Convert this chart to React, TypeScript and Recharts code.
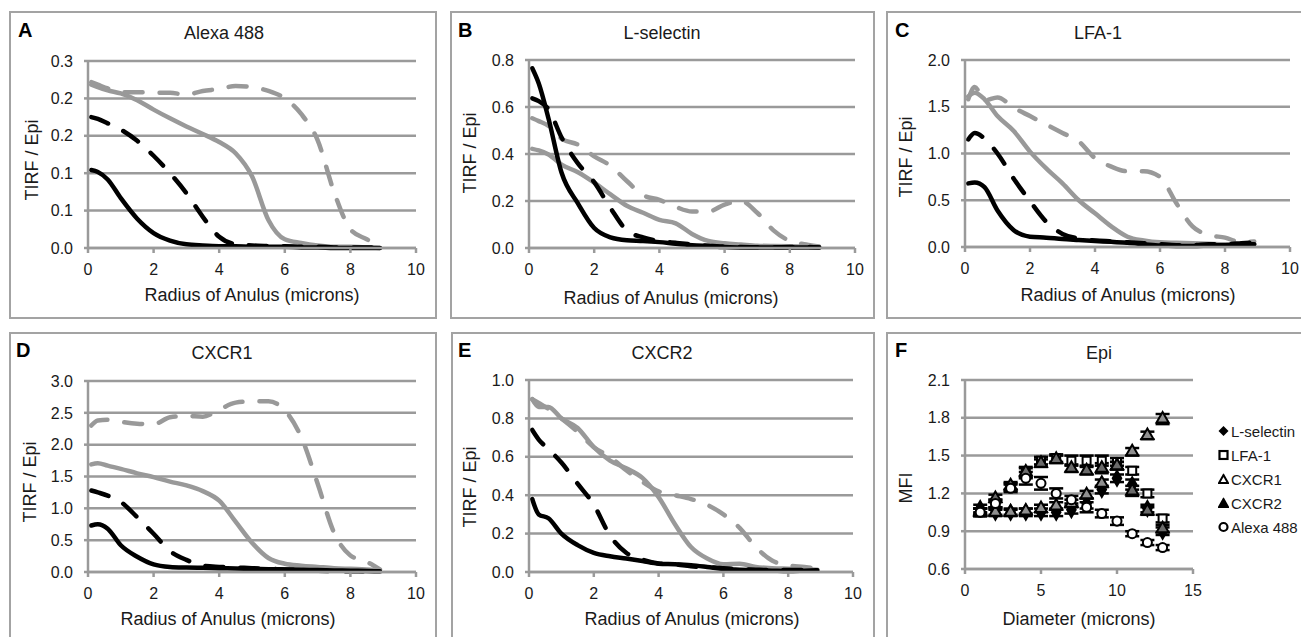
import { CartesianGrid, ErrorBar, Line, LineChart, Scatter, ScatterChart, XAxis, YAxis, ZAxis } from "recharts"

const FONT = '"Liberation Sans", Arial, Helvetica, sans-serif'
const GRID = "#9a9a9a"
const GRAY = "#999999"
const INK = "#1a1a1a"

// radius of anulus (microns), shared by panels A-E
const radius = [0.1, 0.3, 0.6, 1, 1.5, 2, 2.5, 3, 3.5, 4, 4.5, 5, 5.5, 6, 6.5, 7, 7.5, 8, 8.5, 8.9]
const radiusTicks = [0, 2, 4, 6, 8, 10]

// A - Alexa 488
const alexaTicks = [0, 0.06, 0.12, 0.18, 0.24, 0.3]
const alexaBlack = [0.125, 0.122, 0.11, 0.08, 0.047, 0.024, 0.012, 0.006, 0.004, 0.003, 0.003, 0.002, 0.002, 0.002, 0.001, 0.001, 0, 0, 0, 0]
const alexaBlackDash = [0.21, 0.207, 0.2, 0.19, 0.172, 0.148, 0.12, 0.088, 0.05, 0.018, 0.006, 0.004, 0.003, 0.003, 0.002, 0.002, 0.001, 0.001, 0.001, 0.001]
const alexaGray = [0.262, 0.258, 0.253, 0.248, 0.237, 0.222, 0.208, 0.195, 0.183, 0.17, 0.152, 0.115, 0.045, 0.014, 0.008, 0.004, 0.002, 0.002, 0.001, 0]
const alexaGrayDash = [0.266, 0.262, 0.256, 0.25, 0.25, 0.249, 0.249, 0.246, 0.252, 0.255, 0.26, 0.258, 0.252, 0.24, 0.215, 0.173, 0.09, 0.03, 0.014, 0.003]

// B - L-selectin
const lselTicks = [0, 0.2, 0.4, 0.6, 0.8]
const lselBlack = [0.765, 0.7, 0.55, 0.32, 0.19, 0.085, 0.045, 0.033, 0.03, 0.025, 0.018, 0.012, 0.008, 0.004, 0.002, 0.002, 0.002, 0.002, 0.002, 0.002]
const lselBlackDash = [0.637, 0.625, 0.59, 0.47, 0.36, 0.28, 0.17, 0.075, 0.045, 0.03, 0.022, 0.015, 0.01, 0.006, 0.004, 0.003, 0.003, 0.004, 0.004, 0.002]
const lselGray = [0.422, 0.415, 0.398, 0.355, 0.322, 0.278, 0.228, 0.18, 0.15, 0.12, 0.105, 0.06, 0.03, 0.02, 0.015, 0.01, 0.008, 0.007, 0.006, 0.005]
const lselGrayDash = [0.552, 0.54, 0.52, 0.465, 0.44, 0.39, 0.35, 0.285, 0.225, 0.205, 0.175, 0.155, 0.155, 0.185, 0.2, 0.15, 0.075, 0.03, 0.015, 0.006]

// C - LFA-1
const lfaTicks = [0, 0.5, 1, 1.5, 2]
const lfaBlack = [0.68, 0.69, 0.64, 0.39, 0.18, 0.11, 0.1, 0.085, 0.075, 0.065, 0.055, 0.045, 0.03, 0.015, 0.01, 0.01, 0.015, 0.02, 0.025, 0.03]
const lfaBlackDash = [1.15, 1.22, 1.16, 1.0, 0.73, 0.49, 0.27, 0.14, 0.09, 0.07, 0.06, 0.05, 0.04, 0.03, 0.02, 0.02, 0.03, 0.03, 0.04, 0.05]
const lfaGray = [1.61, 1.65, 1.58, 1.4, 1.24, 1.02, 0.84, 0.68, 0.5, 0.36, 0.22, 0.11, 0.07, 0.05, 0.045, 0.04, 0.035, 0.03, 0.03, 0.03]
const lfaGrayDash = [1.58, 1.71, 1.57, 1.6, 1.49, 1.4, 1.31, 1.22, 1.13, 0.95, 0.86, 0.81, 0.81, 0.75, 0.47, 0.22, 0.13, 0.1, 0.05, 0.06]

// D - CXCR1
const cx1Ticks = [0, 0.5, 1, 1.5, 2, 2.5, 3]
const cx1Black = [0.73, 0.75, 0.68, 0.42, 0.24, 0.12, 0.08, 0.07, 0.065, 0.06, 0.055, 0.05, 0.045, 0.04, 0.035, 0.03, 0.025, 0.02, 0.015, 0.01]
const cx1BlackDash = [1.28, 1.25, 1.2, 1.1, 0.86, 0.6, 0.33, 0.19, 0.1, 0.08, 0.07, 0.06, 0.05, 0.04, 0.03, 0.02, 0.015, 0.01, 0.01, 0.01]
const cx1Gray = [1.69, 1.71, 1.67, 1.62, 1.55, 1.49, 1.42, 1.36, 1.27, 1.12, 0.79, 0.46, 0.22, 0.13, 0.1, 0.08, 0.06, 0.05, 0.04, 0.03]
const cx1GrayDash = [2.3, 2.38, 2.39, 2.36, 2.33, 2.32, 2.43, 2.45, 2.44, 2.55, 2.66, 2.68, 2.68, 2.54, 2.12, 1.39, 0.62, 0.26, 0.16, 0.04]

// E - CXCR2
const cx2Ticks = [0, 0.2, 0.4, 0.6, 0.8, 1]
const cx2Black = [0.38, 0.3, 0.28, 0.2, 0.14, 0.1, 0.082, 0.07, 0.057, 0.043, 0.04, 0.035, 0.026, 0.016, 0.012, 0.009, 0.007, 0.005, 0.007, 0.009]
const cx2BlackDash = [0.74, 0.69, 0.64, 0.57, 0.46, 0.35, 0.19, 0.1, 0.065, 0.045, 0.04, 0.03, 0.025, 0.02, 0.015, 0.012, 0.01, 0.01, 0.01, 0.01]
const cx2Gray = [0.9, 0.86, 0.86, 0.8, 0.75, 0.65, 0.58, 0.54, 0.49, 0.39, 0.25, 0.13, 0.07, 0.04, 0.043, 0.026, 0.02, 0.017, 0.014, 0.012]
const cx2GrayDash = [0.9, 0.88, 0.85, 0.8, 0.73, 0.65, 0.6, 0.53, 0.47, 0.42, 0.4, 0.38, 0.35, 0.3, 0.23, 0.13, 0.06, 0.035, 0.026, 0.017]

// F - Epi MFI vs diameter
const diameter = [1, 2, 3, 4, 5, 6, 7, 8, 9, 10, 11, 12, 13]
const diameterTicks = [0, 5, 10, 15]
const mfiTicks = [0.6, 0.9, 1.2, 1.5, 1.8, 2.1]
const mfiLsel = [1.08, 1.05, 1.05, 1.05, 1.05, 1.05, 1.07, 1.12, 1.23, 1.32, 1.27, 1.08, 0.9]
const mfiLfa = [1.05, 1.12, 1.25, 1.36, 1.46, 1.48, 1.46, 1.46, 1.46, 1.45, 1.38, 1.2, 1.0]
const mfiCx1 = [1.06, 1.05, 1.05, 1.06, 1.08, 1.1, 1.12, 1.19, 1.28, 1.42, 1.53, 1.66, 1.79]
const mfiCx2 = [1.05, 1.16, 1.26, 1.37, 1.44, 1.47, 1.4, 1.38, 1.4, 1.42, 1.22, 1.06, 0.92]
const mfiAlexa = [1.05, 1.12, 1.24, 1.32, 1.28, 1.2, 1.15, 1.09, 1.04, 0.98, 0.88, 0.81, 0.77]
const errLsel = [0.03, 0.03, 0.03, 0.03, 0.03, 0.03, 0.03, 0.04, 0.03, 0.03, 0.04, 0.03, 0.03]
const errLfa = [0.03, 0.03, 0.03, 0.04, 0.03, 0.03, 0.04, 0.04, 0.04, 0.03, 0.03, 0.03, 0.03]
const errCx1 = [0.02, 0.02, 0.02, 0.02, 0.03, 0.03, 0.03, 0.03, 0.03, 0.03, 0.03, 0.03, 0.04]
const errCx2 = [0.03, 0.03, 0.03, 0.04, 0.03, 0.03, 0.03, 0.03, 0.04, 0.03, 0.04, 0.03, 0.03]
const errAlexa = [0.03, 0.03, 0.03, 0.05, 0.05, 0.04, 0.03, 0.04, 0.03, 0.03, 0.02, 0.02, 0.02]

const YW = 60
const MT = 10
const MR = 12
const XH = 34

type Plot = { x0: number; x1: number; y0: number; y1: number }
type Panel = {
  letter: string
  title: string
  box: [number, number, number, number]
  plot: Plot
  letterAt: [number, number]
  titleAt: [number, number]
  yLabel: string
  yLabelAt: [number, number]
  xLabel: string
  xLabelAt: [number, number]
}

const linePanels: (Panel & { max: number; ticks: number[]; series: number[][] })[] = [
  { letter: "A", title: "Alexa 488", box: [9, 11, 437, 319], plot: { x0: 88, x1: 416, y0: 61, y1: 248 }, letterAt: [18, 30], titleAt: [224, 33], yLabel: "TIRF / Epi", yLabelAt: [32, 160], xLabel: "Radius of Anulus (microns)", xLabelAt: [252, 295], max: 0.3, ticks: alexaTicks, series: [alexaBlack, alexaBlackDash, alexaGray, alexaGrayDash] },
  { letter: "B", title: "L-selectin", box: [450, 11, 875, 319], plot: { x0: 529, x1: 855, y0: 60, y1: 248 }, letterAt: [458, 30], titleAt: [662, 33], yLabel: "TIRF / Epi", yLabelAt: [470, 153], xLabel: "Radius of Anulus (microns)", xLabelAt: [671, 298], max: 0.8, ticks: lselTicks, series: [lselBlack, lselBlackDash, lselGray, lselGrayDash] },
  { letter: "C", title: "LFA-1", box: [886, 11, 1310, 319], plot: { x0: 965, x1: 1290, y0: 60, y1: 247 }, letterAt: [895, 30], titleAt: [1098, 33], yLabel: "TIRF / Epi", yLabelAt: [906, 157], xLabel: "Radius of Anulus (microns)", xLabelAt: [1128, 295], max: 2, ticks: lfaTicks, series: [lfaBlack, lfaBlackDash, lfaGray, lfaGrayDash] },
  { letter: "D", title: "CXCR1", box: [9, 332, 437, 645], plot: { x0: 88, x1: 416, y0: 381, y1: 572 }, letterAt: [16, 350], titleAt: [222, 353], yLabel: "TIRF / Epi", yLabelAt: [30, 482], xLabel: "Radius of Anulus (microns)", xLabelAt: [228, 619], max: 3, ticks: cx1Ticks, series: [cx1Black, cx1BlackDash, cx1Gray, cx1GrayDash] },
  { letter: "E", title: "CXCR2", box: [451, 332, 875, 645], plot: { x0: 529, x1: 853, y0: 380, y1: 572 }, letterAt: [458, 350], titleAt: [662, 353], yLabel: "TIRF / Epi", yLabelAt: [470, 487], xLabel: "Radius of Anulus (microns)", xLabelAt: [692, 619], max: 1, ticks: cx2Ticks, series: [cx2Black, cx2BlackDash, cx2Gray, cx2GrayDash] },
]

const epiPanel: Panel = { letter: "F", title: "Epi", box: [886, 332, 1310, 645], plot: { x0: 965, x1: 1193, y0: 380, y1: 569 }, letterAt: [895, 350], titleAt: [1099, 353], yLabel: "MFI", yLabelAt: [906, 488], xLabel: "Diameter (microns)", xLabelAt: [1079, 619] }

const epiSeries = [
  { name: "L-selectin", values: mfiLsel, errs: errLsel, shape: "diamond", fill: "#000", stroke: "#000" },
  { name: "LFA-1", values: mfiLfa, errs: errLfa, shape: "square", fill: "#fff", stroke: "#000" },
  { name: "CXCR1", values: mfiCx1, errs: errCx1, shape: "triangle", fill: "#8f8f8f", stroke: "#000" },
  { name: "CXCR2", values: mfiCx2, errs: errCx2, shape: "triangle", fill: "#6a6a6a", stroke: "#000" },
  { name: "Alexa 488", values: mfiAlexa, errs: errAlexa, shape: "circle", fill: "#fff", stroke: "#000" },
]

const lineStyles = [
  { stroke: "#000", dash: undefined },
  { stroke: "#000", dash: "18 17" },
  { stroke: GRAY, dash: undefined },
  { stroke: GRAY, dash: "18 17" },
]

const tickStyle = { fontSize: 16, fill: INK, fontFamily: FONT }

function Frame({ p }: { p: Panel }) {
  const [l, t, r, b] = p.box
  return (
    <>
      <div style={{ position: "absolute", left: l, top: t, width: r - l, height: b - t, border: "2px solid #a3a3a3", boxSizing: "border-box" }} />
      <div style={{ position: "absolute", left: p.letterAt[0], top: p.letterAt[1], transform: "translateY(-50%)", fontSize: 20, fontWeight: "bold", lineHeight: 1, color: "#000" }}>{p.letter}</div>
      <div style={{ position: "absolute", left: p.titleAt[0], top: p.titleAt[1], transform: "translate(-50%,-50%)", fontSize: 18, lineHeight: 1, whiteSpace: "nowrap", color: INK }}>{p.title}</div>
      <div style={{ position: "absolute", left: p.yLabelAt[0], top: p.yLabelAt[1], transform: "translate(-50%,-50%) rotate(-90deg)", fontSize: 18, lineHeight: 1, whiteSpace: "nowrap", color: INK }}>{p.yLabel}</div>
      <div style={{ position: "absolute", left: p.xLabelAt[0], top: p.xLabelAt[1], transform: "translate(-50%,-50%)", fontSize: 18, lineHeight: 1, whiteSpace: "nowrap", color: INK }}>{p.xLabel}</div>
    </>
  )
}

function RadiusChart({ p }: { p: (typeof linePanels)[number] }) {
  const rows = radius.map((x, i) => ({ x, s0: p.series[0][i], s1: p.series[1][i], s2: p.series[2][i], s3: p.series[3][i] }))
  const { x0, x1, y0, y1 } = p.plot
  return (
    <div style={{ position: "absolute", left: x0 - YW, top: y0 - MT }}>
      <LineChart width={x1 - x0 + YW + MR} height={y1 - y0 + MT + XH} data={rows} margin={{ top: MT, right: MR, left: 0, bottom: 0 }}>
        <CartesianGrid vertical={false} stroke={GRID} strokeWidth={2.5} />
        <XAxis type="number" dataKey="x" domain={[0, 10]} ticks={radiusTicks} interval={0} height={XH} stroke={GRID} strokeWidth={2.5} tickSize={5} tickMargin={11} tick={tickStyle} />
        <YAxis type="number" domain={[0, p.max]} ticks={p.ticks} interval={0} width={YW} stroke={GRID} strokeWidth={2.5} tickSize={4} tickMargin={11} tick={tickStyle} tickFormatter={(v: number) => v.toFixed(1)} />
        {[2, 3, 1, 0].map((k) => (
          <Line
            key={k}
            type="monotone"
            dataKey={`s${k}`}
            stroke={lineStyles[k].stroke}
            strokeWidth={4.5}
            strokeDasharray={lineStyles[k].dash}
            strokeLinecap="round"
            dot={false}
            activeDot={false}
            isAnimationActive={false}
          />
        ))}
      </LineChart>
    </div>
  )
}

function EpiChart() {
  const { x0, x1, y0, y1 } = epiPanel.plot
  return (
    <div style={{ position: "absolute", left: x0 - YW, top: y0 - MT }}>
      <ScatterChart width={x1 - x0 + YW + MR} height={y1 - y0 + MT + XH} margin={{ top: MT, right: MR, left: 0, bottom: 0 }}>
        <CartesianGrid vertical={false} stroke={GRID} strokeWidth={2.5} />
        <XAxis type="number" dataKey="x" domain={[0, 15]} ticks={diameterTicks} interval={0} height={XH} stroke={GRID} strokeWidth={2.5} tickSize={5} tickMargin={11} tick={tickStyle} />
        <YAxis type="number" dataKey="y" domain={[0.6, 2.1]} ticks={mfiTicks} interval={0} width={YW} stroke={GRID} strokeWidth={2.5} tickSize={4} tickMargin={11} tick={tickStyle} tickFormatter={(v: number) => v.toFixed(1)} />
        <ZAxis range={[80, 80]} />
        {epiSeries.map((s) => (
          <Scatter
            key={s.name}
            name={s.name}
            data={diameter.map((x, i) => ({ x, y: s.values[i], e: s.errs[i] }))}
            shape={s.shape as any}
            fill={s.fill}
            stroke={s.stroke}
            strokeWidth={2}
            isAnimationActive={false}
          >
            <ErrorBar dataKey="e" direction="y" width={7} stroke="#000" strokeWidth={2.5} />
          </Scatter>
        ))}
      </ScatterChart>
    </div>
  )
}

function Marker({ shape, fill }: { shape: string; fill: string }) {
  return (
    <svg width={11} height={11} style={{ display: "block" }}>
      {shape === "diamond" && <polygon points="5.5,0.5 10.5,5.5 5.5,10.5 0.5,5.5" fill="#000" />}
      {shape === "square" && <rect x={1.5} y={1.5} width={8} height={8} fill="#fff" stroke="#000" strokeWidth={2.2} />}
      {shape === "triangle" && <polygon points="5.5,1.5 10,9.5 1,9.5" fill={fill === "#6a6a6a" ? "#000" : "#fff"} stroke="#000" strokeWidth={2} />}
      {shape === "circle" && <circle cx={5.5} cy={5.5} r={4} fill="#fff" stroke="#000" strokeWidth={2.2} />}
    </svg>
  )
}

function EpiLegend() {
  return (
    <div style={{ position: "absolute", left: 1218, top: 431 }}>
      {epiSeries.map((s, i) => (
        <div key={s.name} style={{ position: "absolute", left: 0, top: i * 24, transform: "translateY(-50%)", display: "flex", alignItems: "center", whiteSpace: "nowrap", fontSize: 15, lineHeight: 1, color: INK }}>
          <Marker shape={s.shape} fill={s.fill} />
          <span style={{ marginLeft: 2 }}>{s.name}</span>
        </div>
      ))}
    </div>
  )
}

export default function App() {
  return (
    <div style={{ position: "absolute", left: 0, top: 0, width: 1301, height: 637, background: "#fff", overflow: "hidden", fontFamily: FONT }}>
      {linePanels.map((p) => (
        <div key={p.letter}>
          <Frame p={p} />
          <RadiusChart p={p} />
        </div>
      ))}
      <Frame p={epiPanel} />
      <EpiChart />
      <EpiLegend />
    </div>
  )
}
